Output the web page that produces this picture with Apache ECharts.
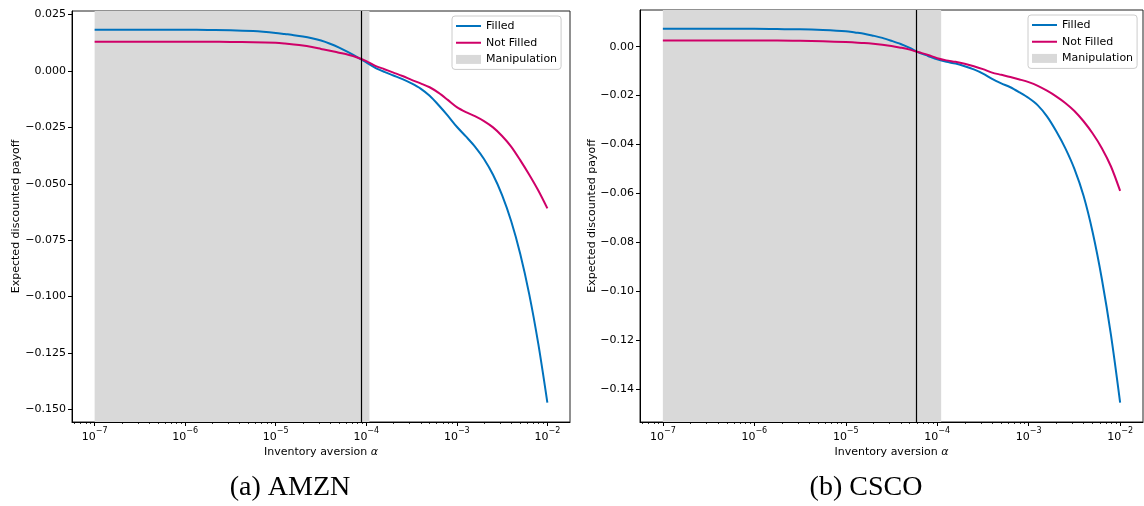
<!DOCTYPE html>
<html><head><meta charset="utf-8">
<script src="https://cdn.jsdelivr.net/npm/echarts@6/dist/echarts.min.js"></script>
<style>html,body{margin:0;padding:0;background:#fff}#c{width:1144px;height:506px}</style>
</head><body><div id="c"></div>
<script>
// ---- data (x = log10 of inventory aversion alpha) ----
const xTickExp = [-7, -6, -5, -4, -3, -2];
const yTicksA = [0.025, 0, -0.025, -0.05, -0.075, -0.1, -0.125, -0.15];
const yTicksB = [0, -0.02, -0.04, -0.06, -0.08, -0.1, -0.12, -0.14];

const logAlpha = [-7, -6.5, -6, -5.75, -5.5, -5.25, -5.0, -4.9, -4.8, -4.7, -4.6, -4.5, -4.4, -4.3, -4.2, -4.1, -4.0, -3.9, -3.8, -3.7, -3.6, -3.5, -3.4, -3.3, -3.2, -3.1, -3.0, -2.9, -2.8, -2.7, -2.6, -2.5, -2.4, -2.3, -2.2, -2.1, -2.0];

const filledA = [0.0183, 0.0183, 0.0183, 0.0182, 0.0181, 0.0177, 0.0169, 0.0164, 0.0159, 0.0153, 0.0145, 0.0135, 0.0121, 0.0104, 0.0084, 0.0062, 0.0038, 0.0014, -0.0004, -0.0020, -0.0036, -0.0055, -0.0078, -0.0110, -0.0152, -0.0198, -0.0247, -0.0290, -0.0335, -0.0390, -0.0460, -0.0550, -0.0665, -0.0810, -0.0990, -0.1210, -0.1470];
const notFilledA = [0.0130, 0.0130, 0.0130, 0.0130, 0.0129, 0.0128, 0.0125, 0.0122, 0.0118, 0.0113, 0.0106, 0.0098, 0.0090, 0.0081, 0.0072, 0.0060, 0.0044, 0.0023, 0.0008, -0.0007, -0.0022, -0.0039, -0.0055, -0.0072, -0.0097, -0.0128, -0.0160, -0.0182, -0.0200, -0.0222, -0.0250, -0.0288, -0.0335, -0.0395, -0.0460, -0.0530, -0.0609];
const bandA = [-7, -3.965];
const thresholdA = -4.056;

const filledB = [0.0073, 0.0073, 0.0073, 0.0072, 0.0071, 0.0068, 0.0063, 0.0058, 0.0053, 0.0045, 0.0036, 0.0024, 0.0011, -0.0005, -0.0024, -0.0038, -0.0052, -0.0062, -0.0069, -0.0080, -0.0093, -0.0110, -0.0132, -0.0150, -0.0166, -0.0187, -0.0210, -0.0240, -0.0285, -0.0345, -0.0415, -0.0500, -0.0610, -0.0760, -0.0950, -0.1180, -0.1456];
const notFilledB = [0.0025, 0.0025, 0.0025, 0.0025, 0.0024, 0.0022, 0.0019, 0.0017, 0.0015, 0.0012, 0.0008, 0.0003, -0.0004, -0.0012, -0.0023, -0.0034, -0.0047, -0.0056, -0.0062, -0.0070, -0.0080, -0.0092, -0.0106, -0.0115, -0.0124, -0.0134, -0.0145, -0.0160, -0.0180, -0.0203, -0.0230, -0.0263, -0.0305, -0.0355, -0.0415, -0.0490, -0.0590];
const bandB = [-7, -3.957];
const thresholdB = -4.23;

const captions = ['(a) AMZN', '(b) CSCO'];
const legendNames = ['Filled', 'Not Filled', 'Manipulation'];

// ---- styling ----
const FONT = 'DejaVu Sans';
const BLUE = '#0072bd', MAG = '#cf0068', BAND = '#d9d9d9';
const XMIN = -7.25, XMAX = -1.75;
const LINE_ICON = 'path://M0,0L0.01,0L0,0.01Z M0,3.5H25V5.5H0Z M25,9L24.99,9L25,8.99Z';

const minorTicks = [];
for (let n = -8; n <= -2; n++) for (let k = 2; k <= 9; k++) {
  const v = n + Math.log10(k);
  if (v > XMIN && v < XMAX) minorTicks.push(v);
}

const chart = echarts.init(document.getElementById('c'));

function xAxesFor(g) {
  return [{
    type: 'value', gridIndex: g, position: 'bottom', min: XMIN, max: XMAX,
    name: 'Inventory aversion {i|α}', nameLocation: 'middle', nameGap: 25, nameMoveOverlap: false,
    nameTextStyle: { fontFamily: FONT, fontSize: 11, color: '#000',
      rich: { i: { fontFamily: FONT, fontSize: 11, fontStyle: 'italic', color: '#000' } } },
    axisLine: { show: true, onZero: false, lineStyle: { color: '#000', width: 1 } },
    axisTick: { show: true, length: 4, customValues: xTickExp, lineStyle: { color: '#000', width: 1 } },
    axisLabel: { show: true, margin: 5, customValues: xTickExp,
      formatter: v => '{b|10}{s|−' + Math.round(-v) + '}',
      rich: {
        b: { fontFamily: FONT, fontSize: 11, color: '#000', lineHeight: 16, verticalAlign: 'bottom' },
        s: { fontFamily: FONT, fontSize: 8, color: '#000', lineHeight: 16, verticalAlign: 'top' }
      } },
    splitLine: { show: false }
  }, {
    type: 'value', gridIndex: g, position: 'bottom', min: XMIN, max: XMAX,
    axisLine: { show: false, onZero: false }, axisLabel: { show: false }, splitLine: { show: false },
    axisTick: { show: true, length: 2, customValues: minorTicks, lineStyle: { color: '#000', width: 0.8 } }
  }];
}

function yAxisFor(g, min, max, ticks, dec, gap) {
  return {
    type: 'value', gridIndex: g, position: 'left', min, max,
    name: 'Expected discounted payoff', nameLocation: 'middle', nameGap: gap, nameMoveOverlap: false,
    nameTextStyle: { fontFamily: FONT, fontSize: 11, color: '#000' },
    axisLine: { show: true, onZero: false, lineStyle: { color: '#000', width: 1 } },
    axisTick: { show: true, length: 4, customValues: ticks, lineStyle: { color: '#000', width: 1 } },
    axisLabel: { show: true, margin: 6, customValues: ticks, fontFamily: FONT, fontSize: 11, color: '#000',
      formatter: v => { const s = Math.abs(v) < 1e-12 ? (0).toFixed(dec) : v.toFixed(dec); return s.replace('-', '−'); } },
    splitLine: { show: false }
  };
}

function bandRender(params, api) {
  const x0 = api.coord([api.value(0), 0])[0];
  const x1 = api.coord([api.value(1), 0])[0];
  const cs = params.coordSys;
  return { type: 'rect', shape: { x: x0, y: cs.y, width: x1 - x0, height: cs.height }, style: { fill: BAND } };
}

function seriesFor(xi, yi, f, nf, band, thr) {
  return [{
    name: 'Manipulation', type: 'custom', xAxisIndex: xi, yAxisIndex: yi,
    data: [band], encode: { x: [0, 1] }, renderItem: bandRender, itemStyle: { color: BAND },
    z: 1, silent: true,
    markLine: { silent: true, symbol: ['none', 'none'], label: { show: false }, animation: false,
      lineStyle: { color: '#000', width: 1.2, type: 'solid' }, data: [{ xAxis: thr }] }
  }, {
    name: 'Filled', type: 'line', xAxisIndex: xi, yAxisIndex: yi,
    data: logAlpha.map((x, i) => [x, f[i]]), symbol: 'none', showSymbol: false,
    smooth: 0.3, lineStyle: { width: 2, color: BLUE }, itemStyle: { color: BLUE }, z: 3, silent: true
  }, {
    name: 'Not Filled', type: 'line', xAxisIndex: xi, yAxisIndex: yi,
    data: logAlpha.map((x, i) => [x, nf[i]]), symbol: 'none', showSymbol: false,
    smooth: 0.3, lineStyle: { width: 2, color: MAG }, itemStyle: { color: MAG }, z: 3, silent: true
  }];
}

function legendAt(left, top) {
  return {
    left, top, orient: 'vertical', itemWidth: 25, itemHeight: 9, itemGap: 2.7,
    padding: [3, 4, 3, 4], borderColor: '#cccccc', borderWidth: 1, borderRadius: 3,
    backgroundColor: 'rgba(255,255,255,0.85)', selectedMode: false,
    textStyle: { fontFamily: FONT, fontSize: 11, color: '#000', lineHeight: 14 },
    data: legendNames.map(n => ({ name: n, icon: n === 'Manipulation' ? 'rect' : LINE_ICON }))
  };
}

chart.setOption({
  animation: false,
  backgroundColor: '#fff',
  grid: [
    { left: 72, top: 11, width: 498, height: 411, show: true, borderColor: '#222', borderWidth: 1, backgroundColor: 'transparent' },
    { left: 640, top: 10, width: 503, height: 412, show: true, borderColor: '#222', borderWidth: 1, backgroundColor: 'transparent' }
  ],
  xAxis: [...xAxesFor(0), ...xAxesFor(1)],
  yAxis: [yAxisFor(0, -0.1556, 0.0266, yTicksA, 3, 50), yAxisFor(1, -0.1535, 0.0150, yTicksB, 2, 42)],
  legend: [legendAt(452, 16), legendAt(1028, 15)],
  series: [
    ...seriesFor(0, 0, filledA, notFilledA, bandA, thresholdA),
    ...seriesFor(2, 1, filledB, notFilledB, bandB, thresholdB)
  ],
  graphic: [
    { type: 'text', x: 290, y: 488, style: { text: captions[0], fontFamily: 'Liberation Serif', fontSize: 28, fill: '#000', align: 'center', verticalAlign: 'middle', textAlign: 'center', textVerticalAlign: 'middle' } },
    { type: 'text', x: 866, y: 488, style: { text: captions[1], fontFamily: 'Liberation Serif', fontSize: 28, fill: '#000', align: 'center', verticalAlign: 'middle', textAlign: 'center', textVerticalAlign: 'middle' } }
  ]
});
</script>
</body></html>
